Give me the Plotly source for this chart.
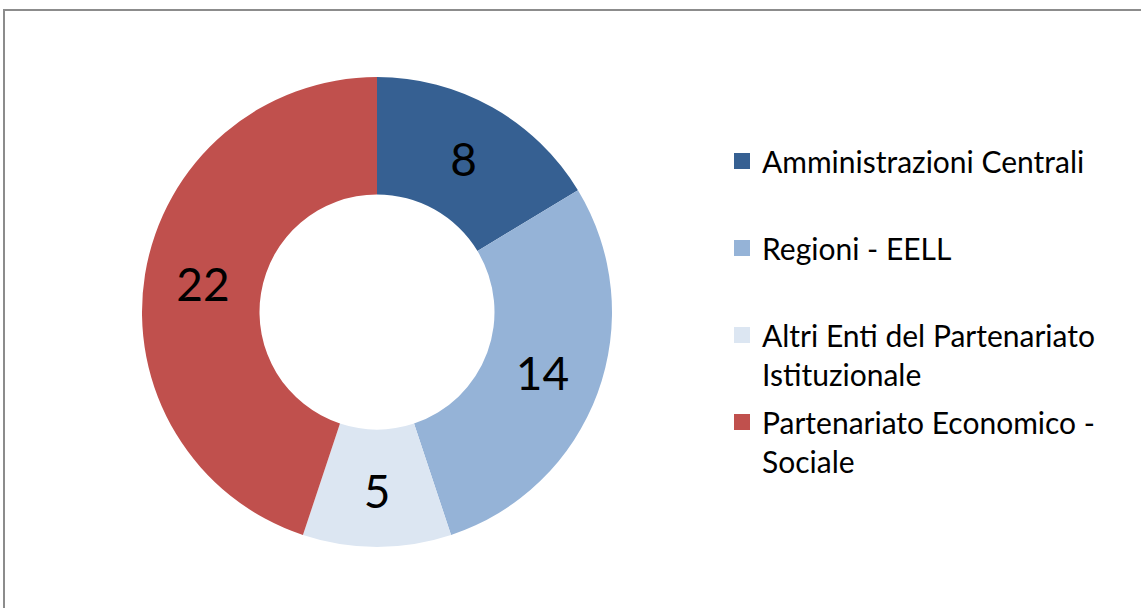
import plotly.graph_objects as go

categories = [
    "Amministrazioni Centrali",
    "Regioni - EELL",
    "Altri Enti del Partenariato<br>Istituzionale",
    "Partenariato Economico -<br>Sociale",
]
values = [8, 14, 5, 22]
colors = ["#366092", "#95B3D7", "#DCE6F2", "#C0504D"]

W, H = 1141, 608
FONT = "Lato"

fig = go.Figure()
fig.add_trace(go.Pie(
    labels=categories,
    values=values,
    marker=dict(colors=colors, line=dict(width=0)),
    hole=0.5,
    sort=False,
    direction="clockwise",
    rotation=0,
    textinfo="value",
    textposition="inside",
    insidetextorientation="horizontal",
    textfont=dict(family=FONT, size=46, color="#000000"),
    showlegend=False,
    hoverinfo="label+value",
    domain=dict(x=[(377 - 235) / W, (377 + 235) / W], y=[1 - 547 / H, 1 - 77 / H]),
))

# legend entries (library legend), one per category
for i, (cat, col) in enumerate(zip(categories, colors)):
    name = cat if "<br>" in cat else cat + "<br>&nbsp;"
    fig.add_trace(go.Scatter(
        x=[None], y=[None], mode="markers", name=name,
        marker=dict(symbol="square", size=18, color=col),
        legendgroup=f"g{i}", showlegend=True, hoverinfo="skip",
    ))

fig.update_layout(
    width=W, height=H,
    margin=dict(l=0, r=0, t=0, b=0),
    paper_bgcolor="white", plot_bgcolor="white",
    xaxis=dict(visible=False), yaxis=dict(visible=False),
    legend=dict(
        x=722 / W, xanchor="left", y=1 - 135 / H, yanchor="top",
        font=dict(family=FONT, size=30, color="#000000"),
        valign="top", tracegroupgap=6, itemsizing="trace",
        bgcolor="rgba(0,0,0,0)",
    ),
    shapes=[dict(
        type="rect", xref="paper", yref="paper",
        x0=4 / W, x1=1.01, y0=-0.01, y1=1 - 10 / H,
        line=dict(color="#8c8c8c", width=2), layer="above",
    )],
    hovermode=False,
)

fig.write_html("out.html")
